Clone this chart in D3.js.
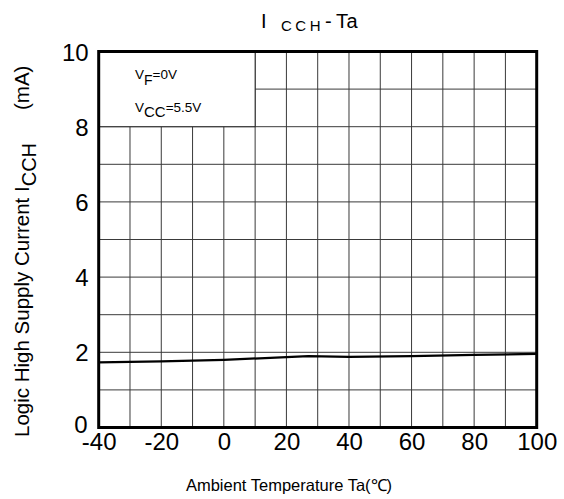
<!DOCTYPE html>
<html><head><meta charset="utf-8">
<script src="https://cdn.jsdelivr.net/npm/d3@7"></script>
<style>body{margin:0;background:#fff}svg{display:block;font-family:"Liberation Sans",Arial,sans-serif}</style>
</head><body>
<svg id="c" width="564" height="499"></svg>
<script>
const temps = [-40, -20, 0, 20, 27, 40, 60, 80, 100];
const icch = [1.73, 1.76, 1.80, 1.87, 1.90, 1.88, 1.90, 1.93, 1.96];
const xTicks = [-40, -20, 0, 20, 40, 60, 80, 100];
const yTicks = [0, 2, 4, 6, 8, 10];

const svg = d3.select("#c");
const L = 98.7, R = 536.7, T = 51.5, B = 427.5;
const x = d3.scaleLinear().domain([-40, 100]).range([L, R]);
const y = d3.scaleLinear().domain([0, 10]).range([B, T]);
const FONT = "Liberation Sans, Arial, sans-serif";

// grid
const g = svg.append("g");
g.selectAll(".v").data(d3.range(-30, 100, 10)).enter().append("line")
  .attr("x1", d => x(d)).attr("x2", d => x(d)).attr("y1", T).attr("y2", B)
  .attr("stroke", "#3a3a3a").attr("stroke-width", 1);
g.selectAll(".h").data(d3.range(1, 10, 1)).enter().append("line")
  .attr("x1", L).attr("x2", R).attr("y1", d => y(d)).attr("y2", d => y(d))
  .attr("stroke", "#3a3a3a").attr("stroke-width", 1);

// legend box
svg.append("rect").attr("x", x(-40)).attr("y", y(10)).attr("width", x(10) - x(-40)).attr("height", y(8) - y(10))
  .attr("fill", "#fff").attr("stroke", "#222").attr("stroke-width", 1);
const lg = svg.append("g").attr("font-size", 13.5).attr("fill", "#000");
const t1 = lg.append("text").attr("x", 135).attr("y", 79);
t1.append("tspan").text("V");
t1.append("tspan").attr("dy", 6).attr("font-size", 14).text("F");
t1.append("tspan").attr("dy", -6).text("=0V");
const t2 = lg.append("text").attr("x", 135).attr("y", 111.5);
t2.append("tspan").text("V");
t2.append("tspan").attr("dy", 5.5).attr("font-size", 15).text("CC");
t2.append("tspan").attr("dy", -5.5).text("=5.5V");

// curve
svg.append("path").datum(temps.map((t, i) => [t, icch[i]]))
  .attr("d", d3.line().x(d => x(d[0])).y(d => y(d[1])))
  .attr("fill", "none").attr("stroke", "#000").attr("stroke-width", 2.2);

// frame
svg.append("rect").attr("x", L).attr("y", T).attr("width", R - L).attr("height", B - T)
  .attr("fill", "none").attr("stroke", "#000").attr("stroke-width", 3);

// axes labels
const xa = d3.axisBottom(x).tickValues(xTicks).tickSize(0).tickFormat(d => String(d));
const xg = svg.append("g").attr("transform", `translate(0,${B})`).call(xa);
xg.select(".domain").remove();
xg.selectAll("text").attr("font-size", 24).attr("fill", "#000").attr("font-family", FONT).attr("dy", "0.71em").attr("y", 5.5);

const ya = d3.axisLeft(y).tickValues(yTicks).tickSize(0).tickFormat(d => String(d));
const yg = svg.append("g").attr("transform", `translate(${L},0)`).call(ya);
yg.select(".domain").remove();
yg.selectAll("text").attr("font-size", 24).attr("fill", "#000").attr("font-family", FONT).attr("x", -10).attr("dy", "0.36em");
yg.selectAll(".tick").filter(d => d === 0).select("text").attr("dy", "0.2em").attr("x", -11);

// title
const tt = svg.append("text").attr("y", 28).attr("font-size", 20).attr("fill", "#000");
tt.append("tspan").attr("x", 261).text("I");
tt.append("tspan").attr("x", 281).attr("dy", 3).attr("font-size", 15).attr("letter-spacing", 3.5).text("CCH");
tt.append("tspan").attr("x", 325).attr("dy", -3).text("-");
tt.append("tspan").attr("x", 336).attr("letter-spacing", 0.5).text("Ta");

// x title
svg.append("text").attr("x", 289).attr("y", 491).attr("text-anchor", "middle").attr("font-size", 16.5).text("Ambient Temperature Ta(℃)");

// y title
const yt = svg.append("text").attr("transform", "translate(29,437) rotate(-90)").attr("text-anchor", "start").attr("font-size", 20.5);
yt.append("tspan").attr("x", 0).text("Logic High Supply Current I");
yt.append("tspan").attr("dy", 7).attr("font-size", 20).text("CCH");
yt.append("tspan").attr("dy", -7).attr("x", 327).text("(mA)");
</script>
</body></html>
